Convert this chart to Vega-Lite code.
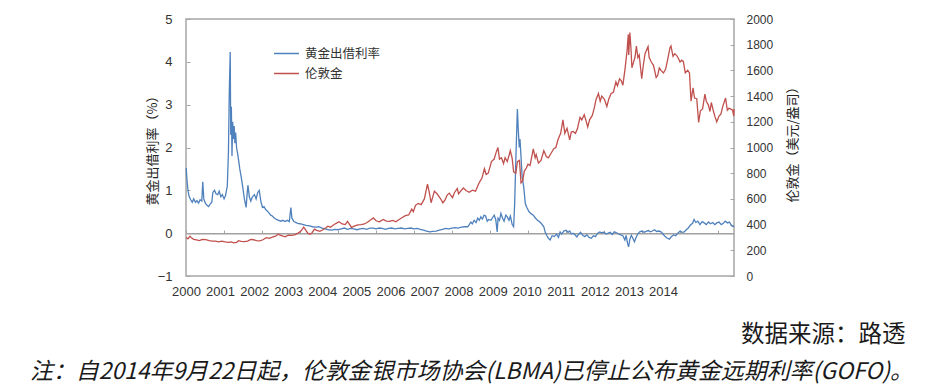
{
"$schema": "https://vega.github.io/schema/vega-lite/v6.json",
"width": 548, "height": 257,
"autosize": "none",
"padding": {"left": 186, "top": 19, "right": 193, "bottom": 116},
"background": "white",
"config": {"view": {"stroke": "#a6a6a6", "strokeWidth": 1.5}, "axis": {"grid": false}},
"title": {"text": "注：自2014年9月22日起，伦敦金银市场协会(LBMA)已停止公布黄金远期利率(GOFO)。", "orient": "bottom", "anchor": "start", "frame": "group", "dx": -156, "offset": 15, "font": "Noto Sans CJK SC", "fontSize": 22.9, "fontStyle": "italic", "fontWeight": "normal", "color": "#1a1a1a"},
"datasets": {
"gofo": [
{"d":"2000-01-03","r":1.52},{"d":"2000-01-10","r":1.25},{"d":"2000-01-20","r":1.0},{"d":"2000-02-01","r":0.85},{"d":"2000-02-15","r":0.78},{"d":"2000-03-01","r":0.72},{"d":"2000-03-15","r":0.8},{"d":"2000-04-01","r":0.72},{"d":"2000-04-15","r":0.76},{"d":"2000-05-01","r":0.7},{"d":"2000-05-15","r":0.78},{"d":"2000-06-01","r":0.75},{"d":"2000-06-10","r":1.2},{"d":"2000-06-20","r":0.8},{"d":"2000-07-05","r":0.7},{"d":"2000-07-20","r":0.65},{"d":"2000-08-05","r":0.62},{"d":"2000-08-20","r":0.68},{"d":"2000-09-05","r":0.72},{"d":"2000-09-15","r":0.95},{"d":"2000-10-01","r":1.0},{"d":"2000-10-15","r":0.92},{"d":"2000-11-01","r":0.9},{"d":"2000-11-15","r":0.98},{"d":"2000-12-01","r":0.85},{"d":"2000-12-15","r":0.9},{"d":"2001-01-01","r":0.8},{"d":"2001-01-15","r":0.88},{"d":"2001-02-01","r":1.1},{"d":"2001-02-12","r":1.9},{"d":"2001-02-20","r":3.3},{"d":"2001-03-01","r":4.23},{"d":"2001-03-06","r":2.3},{"d":"2001-03-12","r":2.95},{"d":"2001-03-18","r":1.8},{"d":"2001-03-25","r":2.6},{"d":"2001-04-01","r":2.2},{"d":"2001-04-08","r":2.5},{"d":"2001-04-15","r":2.1},{"d":"2001-04-22","r":2.35},{"d":"2001-05-01","r":2.0},{"d":"2001-05-15","r":1.8},{"d":"2001-06-01","r":1.5},{"d":"2001-06-15","r":1.3},{"d":"2001-07-01","r":1.05},{"d":"2001-07-15","r":0.8},{"d":"2001-08-01","r":0.6},{"d":"2001-08-10","r":0.9},{"d":"2001-08-18","r":1.12},{"d":"2001-09-01","r":0.85},{"d":"2001-09-15","r":0.75},{"d":"2001-10-01","r":0.85},{"d":"2001-10-20","r":0.9},{"d":"2001-11-05","r":0.8},{"d":"2001-11-20","r":0.95},{"d":"2001-12-05","r":1.0},{"d":"2001-12-20","r":0.75},{"d":"2002-01-05","r":0.6},{"d":"2002-01-20","r":0.62},{"d":"2002-02-05","r":0.55},{"d":"2002-02-20","r":0.52},{"d":"2002-03-10","r":0.47},{"d":"2002-03-25","r":0.42},{"d":"2002-04-10","r":0.4},{"d":"2002-05-01","r":0.35},{"d":"2002-05-20","r":0.32},{"d":"2002-06-10","r":0.3},{"d":"2002-07-01","r":0.28},{"d":"2002-07-20","r":0.3},{"d":"2002-08-10","r":0.27},{"d":"2002-09-01","r":0.3},{"d":"2002-09-20","r":0.27},{"d":"2002-10-05","r":0.6},{"d":"2002-10-15","r":0.35},{"d":"2002-11-01","r":0.28},{"d":"2002-11-20","r":0.25},{"d":"2002-12-10","r":0.23},{"d":"2003-01-01","r":0.22},{"d":"2003-02-01","r":0.2},{"d":"2003-03-01","r":0.18},{"d":"2003-04-01","r":0.17},{"d":"2003-05-01","r":0.15},{"d":"2003-06-01","r":0.14},{"d":"2003-07-01","r":0.15},{"d":"2003-08-01","r":0.12},{"d":"2003-09-01","r":0.1},{"d":"2003-10-01","r":0.08},{"d":"2003-11-01","r":0.07},{"d":"2003-12-01","r":0.09},{"d":"2004-01-01","r":0.08},{"d":"2004-02-01","r":0.1},{"d":"2004-03-01","r":0.12},{"d":"2004-04-01","r":0.09},{"d":"2004-05-01","r":0.11},{"d":"2004-06-01","r":0.1},{"d":"2004-07-01","r":0.08},{"d":"2004-08-01","r":0.1},{"d":"2004-09-01","r":0.11},{"d":"2004-10-01","r":0.09},{"d":"2004-11-01","r":0.12},{"d":"2004-12-01","r":0.12},{"d":"2005-01-01","r":0.1},{"d":"2005-02-01","r":0.12},{"d":"2005-03-01","r":0.11},{"d":"2005-04-01","r":0.09},{"d":"2005-05-01","r":0.11},{"d":"2005-06-01","r":0.12},{"d":"2005-07-01","r":0.1},{"d":"2005-08-01","r":0.11},{"d":"2005-09-01","r":0.12},{"d":"2005-10-01","r":0.1},{"d":"2005-11-01","r":0.11},{"d":"2005-12-01","r":0.12},{"d":"2006-01-01","r":0.1},{"d":"2006-02-01","r":0.11},{"d":"2006-03-01","r":0.09},{"d":"2006-04-01","r":0.07},{"d":"2006-05-01","r":0.05},{"d":"2006-06-01","r":0.03},{"d":"2006-07-01","r":0.04},{"d":"2006-08-01","r":0.05},{"d":"2006-09-01","r":0.07},{"d":"2006-10-01","r":0.09},{"d":"2006-11-01","r":0.11},{"d":"2006-12-01","r":0.1},{"d":"2007-01-01","r":0.12},{"d":"2007-02-01","r":0.13},{"d":"2007-03-01","r":0.12},{"d":"2007-04-01","r":0.14},{"d":"2007-05-01","r":0.15},{"d":"2007-06-01","r":0.15},{"d":"2007-07-01","r":0.26},{"d":"2007-07-15","r":0.22},{"d":"2007-08-01","r":0.3},{"d":"2007-08-20","r":0.25},{"d":"2007-09-05","r":0.35},{"d":"2007-09-20","r":0.3},{"d":"2007-10-05","r":0.38},{"d":"2007-10-20","r":0.33},{"d":"2007-11-05","r":0.42},{"d":"2007-11-20","r":0.4},{"d":"2007-12-05","r":0.28},{"d":"2007-12-20","r":0.32},{"d":"2008-01-10","r":0.3},{"d":"2008-01-25","r":0.36},{"d":"2008-02-10","r":0.42},{"d":"2008-02-25","r":0.32},{"d":"2008-03-10","r":0.03},{"d":"2008-03-18","r":0.35},{"d":"2008-04-01","r":0.3},{"d":"2008-04-15","r":0.46},{"d":"2008-05-01","r":0.35},{"d":"2008-05-15","r":0.28},{"d":"2008-06-01","r":0.42},{"d":"2008-06-15","r":0.38},{"d":"2008-07-01","r":0.3},{"d":"2008-07-15","r":0.4},{"d":"2008-08-01","r":0.2},{"d":"2008-08-15","r":0.15},{"d":"2008-08-25","r":0.69},{"d":"2008-09-05","r":1.7},{"d":"2008-09-20","r":2.9},{"d":"2008-09-28","r":2.45},{"d":"2008-10-08","r":2.0},{"d":"2008-10-15","r":2.2},{"d":"2008-10-25","r":1.78},{"d":"2008-11-05","r":1.31},{"d":"2008-11-20","r":1.08},{"d":"2008-12-05","r":0.69},{"d":"2008-12-20","r":0.6},{"d":"2009-01-10","r":0.5},{"d":"2009-02-01","r":0.45},{"d":"2009-02-20","r":0.42},{"d":"2009-03-10","r":0.36},{"d":"2009-04-01","r":0.3},{"d":"2009-04-20","r":0.27},{"d":"2009-05-10","r":0.22},{"d":"2009-06-01","r":0.15},{"d":"2009-06-15","r":0.02},{"d":"2009-07-01","r":-0.06},{"d":"2009-07-15","r":-0.12},{"d":"2009-08-01","r":-0.16},{"d":"2009-08-20","r":-0.06},{"d":"2009-09-10","r":-0.08},{"d":"2009-10-01","r":-0.02},{"d":"2009-10-20","r":-0.1},{"d":"2009-11-05","r":0.03},{"d":"2009-11-20","r":-0.02},{"d":"2009-12-10","r":0.05},{"d":"2010-01-01","r":0.07},{"d":"2010-01-20","r":0.02},{"d":"2010-02-05","r":0.05},{"d":"2010-02-20","r":-0.02},{"d":"2010-03-10","r":0.0},{"d":"2010-04-01","r":-0.05},{"d":"2010-04-15","r":-0.09},{"d":"2010-05-01","r":-0.03},{"d":"2010-05-20","r":0.02},{"d":"2010-06-10","r":-0.05},{"d":"2010-07-01","r":-0.08},{"d":"2010-07-20","r":-0.04},{"d":"2010-08-10","r":-0.1},{"d":"2010-09-01","r":-0.12},{"d":"2010-09-20","r":-0.06},{"d":"2010-10-10","r":-0.08},{"d":"2010-11-01","r":0.0},{"d":"2010-11-20","r":0.03},{"d":"2010-12-10","r":0.01},{"d":"2011-01-01","r":0.02},{"d":"2011-01-20","r":-0.02},{"d":"2011-02-10","r":0.0},{"d":"2011-03-01","r":0.02},{"d":"2011-03-20","r":-0.03},{"d":"2011-04-10","r":0.03},{"d":"2011-05-01","r":0.01},{"d":"2011-05-20","r":-0.02},{"d":"2011-06-10","r":-0.04},{"d":"2011-07-01","r":-0.06},{"d":"2011-07-20","r":-0.16},{"d":"2011-08-01","r":-0.05},{"d":"2011-08-15","r":-0.24},{"d":"2011-08-25","r":-0.32},{"d":"2011-09-05","r":-0.15},{"d":"2011-09-20","r":-0.05},{"d":"2011-10-05","r":-0.12},{"d":"2011-10-20","r":-0.2},{"d":"2011-11-05","r":-0.1},{"d":"2011-11-20","r":-0.02},{"d":"2011-12-10","r":0.03},{"d":"2012-01-01","r":0.05},{"d":"2012-01-20","r":0.02},{"d":"2012-02-10","r":0.04},{"d":"2012-03-01","r":0.06},{"d":"2012-03-20","r":0.03},{"d":"2012-04-10","r":0.05},{"d":"2012-05-01","r":0.08},{"d":"2012-05-20","r":0.04},{"d":"2012-06-10","r":0.05},{"d":"2012-07-01","r":0.03},{"d":"2012-07-20","r":-0.02},{"d":"2012-08-10","r":-0.08},{"d":"2012-09-01","r":-0.12},{"d":"2012-09-20","r":-0.14},{"d":"2012-10-10","r":-0.08},{"d":"2012-11-01","r":-0.04},{"d":"2012-11-20","r":-0.06},{"d":"2012-12-10","r":0.0},{"d":"2013-01-01","r":0.05},{"d":"2013-01-20","r":0.02},{"d":"2013-02-10","r":0.03},{"d":"2013-03-01","r":0.08},{"d":"2013-03-20","r":0.12},{"d":"2013-04-10","r":0.19},{"d":"2013-05-01","r":0.23},{"d":"2013-05-15","r":0.32},{"d":"2013-06-01","r":0.25},{"d":"2013-06-20","r":0.28},{"d":"2013-07-10","r":0.2},{"d":"2013-08-01","r":0.27},{"d":"2013-08-20","r":0.24},{"d":"2013-09-10","r":0.2},{"d":"2013-10-01","r":0.26},{"d":"2013-10-20","r":0.22},{"d":"2013-11-10","r":0.25},{"d":"2013-12-01","r":0.2},{"d":"2013-12-20","r":0.24},{"d":"2014-01-10","r":0.26},{"d":"2014-02-01","r":0.2},{"d":"2014-02-20","r":0.23},{"d":"2014-03-10","r":0.28},{"d":"2014-04-01","r":0.24},{"d":"2014-04-20","r":0.26},{"d":"2014-05-10","r":0.18},{"d":"2014-05-25","r":0.15},{"d":"2014-06-03","r":0.17}
],
"gold": [
{"d":"2000-01-03","p":300},{"d":"2000-01-20","p":290},{"d":"2000-02-08","p":310},{"d":"2000-02-25","p":295},{"d":"2000-03-15","p":285},{"d":"2000-04-10","p":282},{"d":"2000-05-10","p":275},{"d":"2000-06-05","p":285},{"d":"2000-07-10","p":283},{"d":"2000-08-10","p":276},{"d":"2000-09-10","p":272},{"d":"2000-10-10","p":272},{"d":"2000-11-10","p":266},{"d":"2000-12-10","p":272},{"d":"2001-01-10","p":266},{"d":"2001-02-10","p":262},{"d":"2001-03-10","p":265},{"d":"2001-04-05","p":258},{"d":"2001-05-01","p":262},{"d":"2001-05-20","p":275},{"d":"2001-06-15","p":270},{"d":"2001-07-15","p":267},{"d":"2001-08-15","p":272},{"d":"2001-09-15","p":285},{"d":"2001-10-10","p":282},{"d":"2001-11-10","p":276},{"d":"2001-12-10","p":274},{"d":"2002-01-10","p":282},{"d":"2002-02-10","p":298},{"d":"2002-03-10","p":293},{"d":"2002-04-10","p":302},{"d":"2002-05-10","p":310},{"d":"2002-06-05","p":325},{"d":"2002-06-25","p":318},{"d":"2002-07-15","p":312},{"d":"2002-08-10","p":305},{"d":"2002-09-10","p":318},{"d":"2002-10-10","p":316},{"d":"2002-11-10","p":320},{"d":"2002-12-10","p":332},{"d":"2003-01-10","p":350},{"d":"2003-02-05","p":380},{"d":"2003-02-20","p":362},{"d":"2003-03-15","p":335},{"d":"2003-04-05","p":325},{"d":"2003-04-25","p":335},{"d":"2003-05-20","p":365},{"d":"2003-06-10","p":355},{"d":"2003-07-10","p":348},{"d":"2003-08-10","p":360},{"d":"2003-09-10","p":378},{"d":"2003-09-25","p":388},{"d":"2003-10-20","p":380},{"d":"2003-11-15","p":395},{"d":"2003-12-15","p":410},{"d":"2004-01-10","p":422},{"d":"2004-02-10","p":405},{"d":"2004-03-10","p":400},{"d":"2004-04-01","p":425},{"d":"2004-05-10","p":378},{"d":"2004-06-10","p":390},{"d":"2004-07-10","p":398},{"d":"2004-08-10","p":400},{"d":"2004-09-10","p":405},{"d":"2004-10-10","p":418},{"d":"2004-11-15","p":440},{"d":"2004-12-05","p":452},{"d":"2005-01-01","p":430},{"d":"2005-02-01","p":422},{"d":"2005-03-10","p":440},{"d":"2005-04-10","p":427},{"d":"2005-05-10","p":425},{"d":"2005-06-10","p":432},{"d":"2005-07-10","p":422},{"d":"2005-08-10","p":440},{"d":"2005-09-10","p":455},{"d":"2005-10-10","p":470},{"d":"2005-11-10","p":475},{"d":"2005-12-10","p":520},{"d":"2005-12-25","p":500},{"d":"2006-01-15","p":550},{"d":"2006-02-10","p":565},{"d":"2006-03-10","p":555},{"d":"2006-04-10","p":600},{"d":"2006-05-10","p":715},{"d":"2006-05-25","p":660},{"d":"2006-06-14","p":570},{"d":"2006-07-01","p":620},{"d":"2006-07-15","p":660},{"d":"2006-08-10","p":640},{"d":"2006-09-10","p":605},{"d":"2006-10-05","p":570},{"d":"2006-10-25","p":590},{"d":"2006-11-15","p":630},{"d":"2006-12-05","p":645},{"d":"2007-01-05","p":610},{"d":"2007-01-25","p":650},{"d":"2007-02-20","p":680},{"d":"2007-03-05","p":640},{"d":"2007-03-25","p":660},{"d":"2007-04-20","p":685},{"d":"2007-05-15","p":665},{"d":"2007-06-15","p":652},{"d":"2007-07-15","p":668},{"d":"2007-08-15","p":660},{"d":"2007-09-10","p":710},{"d":"2007-09-25","p":735},{"d":"2007-10-15","p":760},{"d":"2007-11-08","p":835},{"d":"2007-11-25","p":790},{"d":"2007-12-15","p":800},{"d":"2008-01-15","p":890},{"d":"2008-02-10","p":910},{"d":"2008-02-28","p":960},{"d":"2008-03-17","p":1000},{"d":"2008-04-01","p":910},{"d":"2008-04-20","p":920},{"d":"2008-05-10","p":875},{"d":"2008-05-25","p":920},{"d":"2008-06-15","p":890},{"d":"2008-07-14","p":975},{"d":"2008-08-01","p":915},{"d":"2008-08-15","p":810},{"d":"2008-09-05","p":800},{"d":"2008-09-20","p":890},{"d":"2008-10-10","p":900},{"d":"2008-10-25","p":725},{"d":"2008-11-10","p":740},{"d":"2008-11-25","p":815},{"d":"2008-12-15","p":840},{"d":"2008-12-31","p":870},{"d":"2009-01-20","p":860},{"d":"2009-02-20","p":990},{"d":"2009-03-10","p":920},{"d":"2009-03-20","p":945},{"d":"2009-04-10","p":880},{"d":"2009-05-05","p":900},{"d":"2009-06-01","p":975},{"d":"2009-06-25","p":930},{"d":"2009-07-15","p":920},{"d":"2009-08-10","p":955},{"d":"2009-09-05","p":990},{"d":"2009-09-25","p":1000},{"d":"2009-10-15","p":1060},{"d":"2009-11-10","p":1110},{"d":"2009-12-02","p":1215},{"d":"2009-12-20","p":1110},{"d":"2010-01-10","p":1150},{"d":"2010-02-05","p":1060},{"d":"2010-02-20","p":1120},{"d":"2010-03-10","p":1125},{"d":"2010-04-01","p":1110},{"d":"2010-04-20","p":1145},{"d":"2010-05-15","p":1235},{"d":"2010-06-01","p":1215},{"d":"2010-06-25","p":1255},{"d":"2010-07-15","p":1200},{"d":"2010-07-28","p":1160},{"d":"2010-08-15","p":1215},{"d":"2010-09-10","p":1250},{"d":"2010-09-30","p":1310},{"d":"2010-10-15","p":1370},{"d":"2010-11-08","p":1420},{"d":"2010-11-25","p":1360},{"d":"2010-12-10","p":1400},{"d":"2011-01-05","p":1375},{"d":"2011-01-28","p":1320},{"d":"2011-02-15","p":1375},{"d":"2011-03-10","p":1420},{"d":"2011-04-01","p":1430},{"d":"2011-04-25","p":1510},{"d":"2011-05-10","p":1480},{"d":"2011-05-30","p":1535},{"d":"2011-06-15","p":1520},{"d":"2011-07-01","p":1485},{"d":"2011-07-20","p":1600},{"d":"2011-08-10","p":1750},{"d":"2011-08-22","p":1880},{"d":"2011-08-26","p":1720},{"d":"2011-09-06","p":1895},{"d":"2011-09-16","p":1780},{"d":"2011-09-26","p":1620},{"d":"2011-10-10","p":1660},{"d":"2011-10-25","p":1700},{"d":"2011-11-08","p":1790},{"d":"2011-11-22","p":1700},{"d":"2011-12-05","p":1720},{"d":"2011-12-29","p":1535},{"d":"2012-01-15","p":1650},{"d":"2012-01-30","p":1730},{"d":"2012-02-28","p":1785},{"d":"2012-03-10","p":1700},{"d":"2012-03-30","p":1665},{"d":"2012-04-20","p":1640},{"d":"2012-05-16","p":1545},{"d":"2012-05-30","p":1560},{"d":"2012-06-15","p":1620},{"d":"2012-07-01","p":1600},{"d":"2012-07-25","p":1580},{"d":"2012-08-15","p":1610},{"d":"2012-09-05","p":1690},{"d":"2012-09-25","p":1775},{"d":"2012-10-05","p":1790},{"d":"2012-10-25","p":1710},{"d":"2012-11-10","p":1730},{"d":"2012-11-30","p":1715},{"d":"2012-12-15","p":1695},{"d":"2012-12-31","p":1665},{"d":"2013-01-15","p":1680},{"d":"2013-02-01","p":1670},{"d":"2013-02-20","p":1580},{"d":"2013-03-15","p":1600},{"d":"2013-04-01","p":1580},{"d":"2013-04-16","p":1360},{"d":"2013-05-05","p":1465},{"d":"2013-05-20","p":1385},{"d":"2013-06-10","p":1380},{"d":"2013-06-28","p":1195},{"d":"2013-07-15","p":1285},{"d":"2013-08-05","p":1300},{"d":"2013-08-27","p":1415},{"d":"2013-09-10","p":1360},{"d":"2013-09-30","p":1330},{"d":"2013-10-15","p":1280},{"d":"2013-10-28","p":1350},{"d":"2013-11-15","p":1290},{"d":"2013-12-02","p":1240},{"d":"2013-12-19","p":1200},{"d":"2014-01-10","p":1245},{"d":"2014-01-28","p":1260},{"d":"2014-02-15","p":1320},{"d":"2014-03-14","p":1385},{"d":"2014-03-31","p":1290},{"d":"2014-04-15","p":1305},{"d":"2014-05-01","p":1300},{"d":"2014-05-20","p":1290},{"d":"2014-06-01","p":1245},{"d":"2014-06-03","p":1300}
],
"years": [{"yr":2000},{"yr":2001},{"yr":2002},{"yr":2003},{"yr":2004},{"yr":2005},{"yr":2006},{"yr":2007},{"yr":2008},{"yr":2009},{"yr":2010},{"yr":2011},{"yr":2012},{"yr":2013},{"yr":2014}]
},
"layer": [
{
"layer": [
{
"data": {"name": "gofo"},
"mark": {"type": "line", "strokeWidth": 1.3},
"encoding": {
"x": {"field": "d", "type": "temporal", "scale": {"type": "utc", "domain": [{"year": 2000, "month": 1, "date": 1, "utc": true}, {"year": 2014, "month": 6, "date": 3, "utc": true}]}, "axis": {"orient": "bottom", "offset": -42.83, "domain": true, "domainColor": "#a0a0a0", "domainWidth": 1.5, "labels": false, "ticks": true, "tickSize": -3, "tickColor": "#a0a0a0", "tickWidth": 1, "grid": false, "title": null, "tickCount": {"interval": "year", "step": 1}}},
"y": {"field": "r", "type": "quantitative", "scale": {"domain": [-1, 5], "nice": false, "zero": false}, "axis": {"orient": "left", "values": [-1, 0, 1, 2, 3, 4, 5], "domain": false, "grid": false, "tickSize": -4, "tickColor": "#a6a6a6", "labelPadding": 18, "labelFont": "Liberation Sans", "labelFontSize": 13, "labelColor": "#333333", "title": "黄金出借利率（%）", "titleFont": "Noto Sans CJK SC", "titleFontSize": 13, "titleFontWeight": "normal", "titleColor": "#222222", "titleAngle": -90, "titleX": -34, "titleY": 128, "titleBaseline": "middle", "titleAlign": "center"}},
"color": {"datum": "黄金出借利率", "scale": {"domain": ["黄金出借利率", "伦敦金"], "range": ["#4F81BD", "#C0504D"]}, "legend": {"orient": "none", "legendX": 87, "legendY": 21, "title": null, "symbolType": "stroke", "symbolSize": 625, "symbolStrokeWidth": 1.5, "labelFont": "Noto Sans CJK SC", "labelFontSize": 12.5, "labelColor": "#333333", "labelOffset": 5, "rowPadding": -5}}
}
},
{
"data": {"name": "gold"},
"mark": {"type": "line", "strokeWidth": 1.3},
"encoding": {
"x": {"field": "d", "type": "temporal", "scale": {"type": "utc", "domain": [{"year": 2000, "month": 1, "date": 1, "utc": true}, {"year": 2014, "month": 6, "date": 3, "utc": true}]}, "axis": {"orient": "bottom", "offset": -42.83, "domain": true, "domainColor": "#a0a0a0", "domainWidth": 1.5, "labels": false, "ticks": true, "tickSize": -3, "tickColor": "#a0a0a0", "tickWidth": 1, "grid": false, "title": null, "tickCount": {"interval": "year", "step": 1}}},
"y": {"field": "p", "type": "quantitative", "scale": {"domain": [0, 2000], "nice": false}, "axis": {"orient": "right", "values": [0, 200, 400, 600, 800, 1000, 1200, 1400, 1600, 1800, 2000], "format": "d", "domain": false, "grid": false, "tickSize": -4, "tickColor": "#a6a6a6", "labelPadding": 16, "labelFont": "Liberation Sans", "labelFontSize": 12, "labelColor": "#333333", "title": "伦敦金（美元/盎司）", "titleFont": "Noto Sans CJK SC", "titleFontSize": 13, "titleFontWeight": "normal", "titleColor": "#222222", "titleAngle": -90, "titleX": 58, "titleY": 122, "titleBaseline": "middle", "titleAlign": "center"}},
"color": {"datum": "伦敦金"}
}
}
],
"resolve": {"scale": {"y": "independent"}}
},
{
"data": {"name": "years"},
"mark": {"type": "point", "opacity": 0},
"encoding": {
"x": {"field": "yr", "type": "quantitative", "scale": {"domain": [2000, 2016.084], "nice": false, "zero": false}, "axis": {"orient": "bottom", "values": [2000, 2001, 2002, 2003, 2004, 2005, 2006, 2007, 2008, 2009, 2010, 2011, 2012, 2013, 2014], "format": "d", "ticks": false, "domain": false, "grid": false, "labelFlush": false, "labelOverlap": false, "labelPadding": 9, "labelFont": "Liberation Sans Narrow, Liberation Sans, Arial", "labelFontSize": 13, "labelColor": "#333333", "title": "数据来源：路透", "titleFont": "Noto Sans CJK SC", "titleFontSize": 23.5, "titleFontWeight": "normal", "titleColor": "#1a1a1a", "titleAlign": "right", "titleBaseline": "middle", "titleX": 719, "titleY": 58, "titleAngle": 0}}
}
}
],
"resolve": {"scale": {"x": "independent", "y": "independent"}}
}
